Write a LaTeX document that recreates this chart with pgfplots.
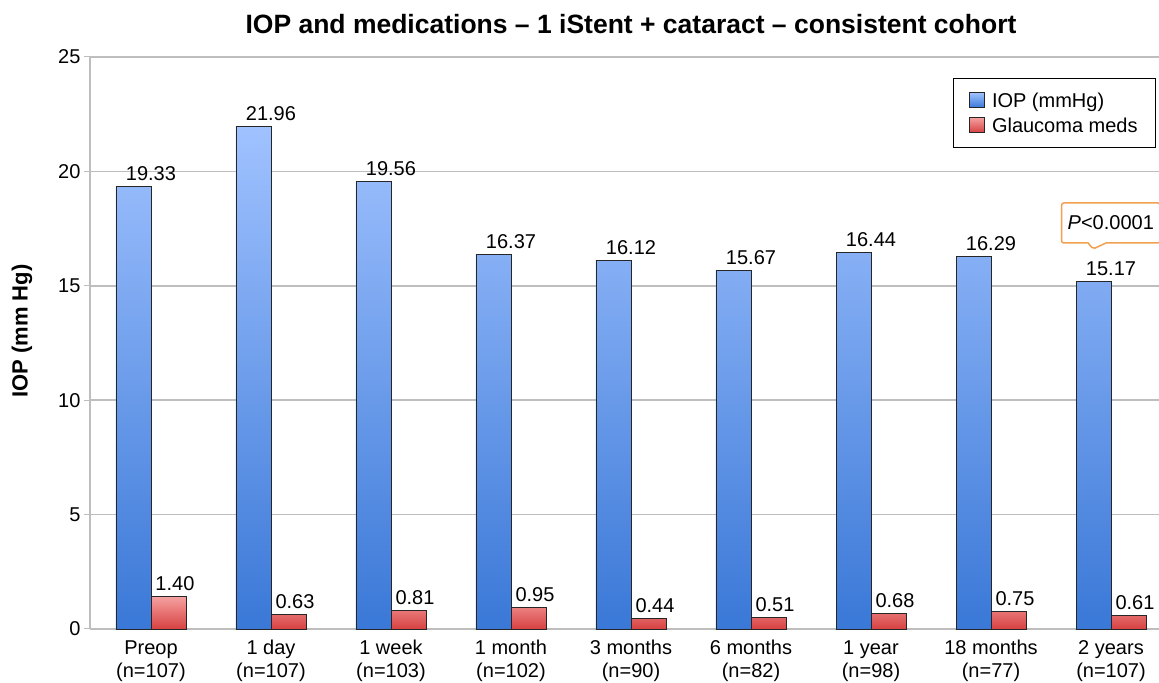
\documentclass[border=0pt]{standalone}
\usepackage{pgfplots}
\pgfplotsset{compat=1.18}
\usepackage{fontspec}
\setmainfont{Liberation Sans}
\usetikzlibrary{shapes.callouts}
\definecolor{bluetop}{RGB}{160,194,255}
\definecolor{bluebot}{RGB}{58,120,215}
\definecolor{redtop}{RGB}{245,160,160}
\definecolor{redbot}{RGB}{215,65,65}
\definecolor{gridgray}{RGB}{190,190,190}
\definecolor{calloutorange}{RGB}{240,160,80}
\newcommand{\lblfmt}{\pgfmathprintnumber[fixed,fixed zerofill,precision=2,assume math mode=true]{\pgfplotspointmeta}}
\pgfplotsset{
  boxlegend/.style={legend image code/.code={\draw[##1, line width=0.8pt] (0pt,-7pt) rectangle (15pt,8pt);}},
}
\begin{document}
\begin{tikzpicture}
\begin{axis}[
  name=ax,
  scale only axis, width=1069pt, height=572pt,
  xmin=-0.508, xmax=8.4, ymin=0, ymax=25,
  clip=false,
  ytick={0,5,10,15,20,25},
  xtick={0,1,2,3,4,5,6,7,8},
  xticklabels={{Preop\\(n=107)},{1 day\\(n=107)},{1 week\\(n=103)},{1 month\\(n=102)},{3 months\\(n=90)},{6 months\\(n=82)},{1 year\\(n=98)},{18 months\\(n=77)},{2 years\\(n=107)}},
  xticklabel style={align=center, font=\fontsize{20}{23}\selectfont, yshift=-2pt},
  yticklabel style={font=\fontsize{20}{24}\selectfont},
  /pgf/number format/assume math mode=true,
  axis lines*=left,
  axis line style={gridgray, line width=1.5pt},
  ymajorgrids, grid style={gridgray, line width=1.5pt},
  tick align=outside, major tick length=6pt,
  ytick style={gridgray, line width=1pt},
  xtick style={draw=none},
  legend style={at={(0.807,0.963)}, anchor=north west, draw=black, line width=1pt,
    font=\fontsize{20}{24}\selectfont, row sep=5pt, inner xsep=16pt, inner ysep=12pt,
    /tikz/every odd column/.append style={column sep=5pt}},
  legend cell align=left,
]
\addplot[ybar, bar width=35pt, bar shift=-17.5pt, draw=black!85, line width=0.9pt,
  top color=bluetop, bottom color=bluebot,
  nodes near coords={\lblfmt},
  every node near coord/.append style={font=\fontsize{20}{24}\selectfont, text=black, anchor=south, yshift=2pt},
  boxlegend]
  coordinates {(0,19.33) (1,21.96) (2,19.56) (3,16.37) (4,16.12) (5,15.67) (6,16.44) (7,16.29) (8,15.17)};
\addlegendentry{IOP (mmHg)}
\addplot[ybar, bar width=35pt, bar shift=17.5pt, draw=black!85, line width=0.9pt,
  top color=redtop, bottom color=redbot,
  nodes near coords={\lblfmt},
  every node near coord/.append style={font=\fontsize{20}{24}\selectfont, text=black, anchor=south, yshift=2pt, xshift=24pt},
  boxlegend]
  coordinates {(0,1.40) (1,0.63) (2,0.81) (3,0.95) (4,0.44) (5,0.51) (6,0.68) (7,0.75) (8,0.61)};
\addlegendentry{Glaucoma meds}
\node[font=\bfseries\fontsize{26.5}{30}\selectfont] at (axis cs:4,25) [yshift=33pt] {IOP and medications – 1 iStent + cataract – consistent cohort};
\node[rectangle callout, draw=calloutorange, line width=1.5pt, fill=white, rounded corners=2pt,
  anchor=west, inner xsep=6pt, minimum height=40pt, font=\fontsize{20}{24}\selectfont,
  callout absolute pointer={(axis cs:7.85,16.61)}, callout pointer width=18pt]
  at (axis cs:7.583,17.745) {\textit{P}<0.0001};
\end{axis}
\node[rotate=90, font=\bfseries\fontsize{22}{26}\selectfont] at ([xshift=-68pt,yshift=12pt]ax.west) {IOP (mm Hg)};
\pgfresetboundingbox
\path ([xshift=-90pt,yshift=-54pt]ax.south west) rectangle ([yshift=57pt]ax.north east);
\end{tikzpicture}
\end{document}
